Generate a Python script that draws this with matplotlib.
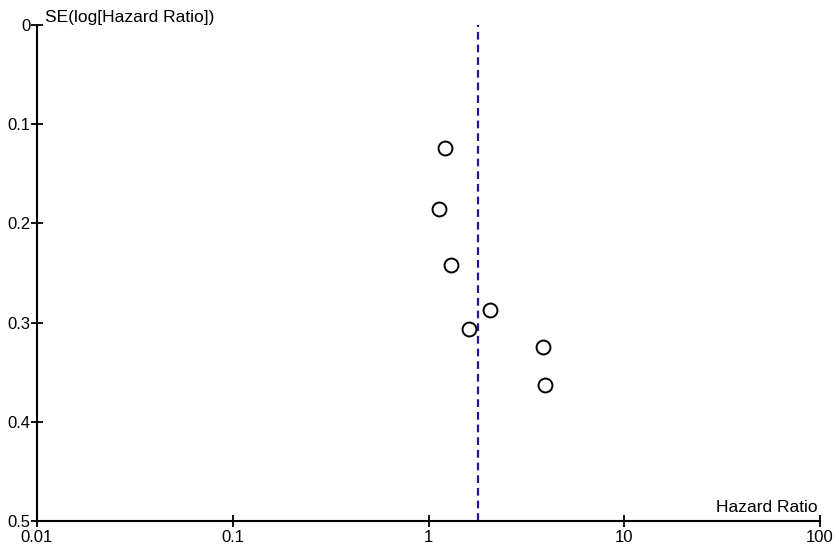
import matplotlib
matplotlib.use("Agg")
import matplotlib.pyplot as plt

# study estimates
hazard_ratio = [1.21, 1.135, 1.30, 2.06, 1.61, 3.83, 3.94]
se_log_hr = [0.124, 0.186, 0.242, 0.287, 0.306, 0.325, 0.363]
pooled_hr = 1.79

xticks = [0.01, 0.1, 1, 10, 100]
xticklabels = ["0.01", "0.1", "1", "10", "100"]
yticks = [0, 0.1, 0.2, 0.3, 0.4, 0.5]
yticklabels = ["0", "0.1", "0.2", "0.3", "0.4", "0.5"]

plt.rcParams["font.family"] = ["Liberation Sans", "DejaVu Sans"]

fig = plt.figure(figsize=(8.39, 5.49), dpi=100)
ax = fig.add_axes([0.0441, 0.051, 0.9333, 0.9035])

ax.axvline(pooled_hr, color="#1c1c8a", linestyle=(0, (3.5, 2.2)), linewidth=1.6)
ax.plot(hazard_ratio, se_log_hr, "o", markersize=10, markerfacecolor="white",
        markeredgecolor="black", markeredgewidth=1.4, linestyle="none")

ax.set_xscale("log")
ax.set_xlim(0.01, 100)
ax.set_ylim(0.5, 0)
ax.set_xticks(xticks)
ax.set_xticklabels(xticklabels)
ax.minorticks_off()
ax.set_yticks(yticks)
ax.set_yticklabels(yticklabels)

for s in ["top", "right"]:
    ax.spines[s].set_visible(False)
for s in ["left", "bottom"]:
    ax.spines[s].set_linewidth(1.5)
ax.tick_params(direction="inout", length=9, width=1.3, labelsize=12)
ax.tick_params(axis="x", pad=2)
ax.tick_params(axis="y", pad=0)

ax.text(0.01, 1.0, "SE(log[Hazard Ratio])", transform=ax.transAxes,
        fontsize=12.5, ha="left", va="bottom")
ax.text(0.997, 0.012, "Hazard Ratio", transform=ax.transAxes,
        fontsize=12.5, ha="right", va="bottom")

fig.savefig("out.png", dpi=100)
